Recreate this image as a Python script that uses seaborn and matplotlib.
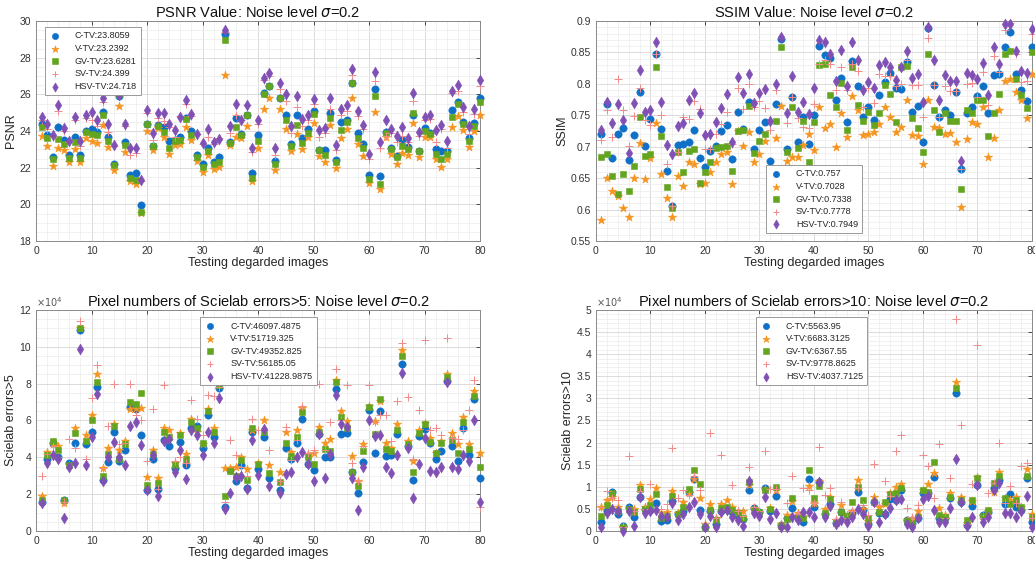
import numpy as np
import pandas as pd
import seaborn as sns
import matplotlib.pyplot as plt
from matplotlib.ticker import MultipleLocator, FuncFormatter

sns.set_style('white')
plt.rcParams['font.family'] = ['Liberation Sans', 'DejaVu Sans']

# data (bottom plots in units of 1e4)
images = list(range(1, 81))
methods = ['C-TV', 'V-TV', 'GV-TV', 'SV-TV', 'HSV-TV']

psnr_c = [24.4, 23.8, 22.6, 24.2, 23.5, 22.7, 23.7, 22.7, 24.0, 24.1, 23.95, 25.05, 23.65, 22.2, 25.9, 23.4, 21.6, 21.7, 19.95, 24.4,
          23.2, 24.35, 24.2, 23.45, 23.5, 23.7, 24.7, 24.0, 22.7, 22.2, 23.05, 22.3, 22.6, 29.3, 23.4, 24.7, 23.85, 24.9, 21.7, 23.8,
          26.1, 26.45, 22.35, 25.8, 24.85, 23.3, 24.85, 23.6, 24.1, 25.1, 22.95, 22.95, 25.0, 22.4, 24.5, 24.6, 26.6, 23.9, 23.3, 21.6,
          26.3, 21.55, 23.95, 23.05, 22.65, 23.5, 23.15, 24.9, 22.9, 24.15, 23.9, 23.0, 22.9, 22.9, 25.15, 25.6, 24.5, 23.6, 24.45, 25.8]
psnr_v = [23.75, 23.2, 22.1, 23.1, 22.95, 22.3, 23.0, 22.3, 23.6, 23.45, 23.35, 24.35, 23.15, 21.85, 25.35, 22.85, 21.25, 21.1, 19.55, 24.0,
          22.95, 24.15, 23.7, 22.75, 23.25, 23.3, 24.2, 23.5, 22.35, 21.75, 22.7, 21.95, 22.05, 27.05, 23.25, 23.7, 23.6, 24.3, 21.25, 23.1,
          25.2, 25.8, 21.9, 25.2, 24.1, 22.9, 23.85, 23.0, 23.65, 24.45, 22.65, 22.3, 24.35, 22.0, 23.6, 24.1, 25.8, 23.3, 22.65, 21.15,
          25.05, 20.85, 23.7, 22.75, 22.2, 22.8, 22.7, 24.45, 22.6, 23.7, 23.7, 22.45, 22.05, 22.45, 24.2, 24.8, 24.05, 23.15, 24.0, 24.9]
psnr_gv = [24.2, 23.6, 22.45, 23.55, 23.3, 22.55, 23.4, 22.55, 23.95, 23.85, 23.8, 24.9, 23.45, 22.15, 26.0, 23.25, 21.45, 21.35, 19.6, 24.4,
           23.2, 24.3, 23.95, 23.1, 23.45, 23.5, 24.65, 23.8, 22.6, 22.05, 22.9, 22.2, 22.3, 28.95, 23.35, 24.2, 23.8, 24.85, 21.45, 23.45,
           26.0, 26.45, 22.2, 25.8, 24.6, 23.2, 24.35, 23.35, 23.9, 24.95, 22.95, 22.7, 24.7, 22.3, 24.05, 24.5, 26.6, 23.6, 23.05, 21.4,
           25.9, 21.1, 23.9, 23.0, 22.6, 23.2, 23.0, 25.0, 22.9, 24.0, 23.85, 22.75, 22.45, 22.75, 24.75, 25.45, 24.4, 23.45, 24.3, 25.6]
psnr_sv = [24.6, 24.1, 23.7, 25.1, 24.0, 23.4, 24.6, 23.2, 24.7, 24.6, 24.3, 25.6, 23.95, 23.2, 26.0, 24.3, 22.7, 22.8, 21.3, 25.0,
           23.5, 24.7, 24.55, 24.2, 23.7, 24.8, 25.5, 24.8, 23.85, 23.3, 23.65, 23.3, 23.6, 29.4, 23.9, 24.9, 24.6, 25.4, 22.85, 24.4,
           26.8, 27.0, 22.7, 26.3, 25.65, 23.9, 25.3, 24.3, 24.6, 25.5, 23.7, 23.9, 25.2, 22.95, 24.85, 25.1, 27.05, 24.8, 24.1, 22.5,
           26.75, 23.05, 23.75, 23.9, 23.4, 23.75, 23.4, 25.65, 23.75, 24.6, 24.65, 23.4, 24.1, 23.1, 26.05, 26.2, 25.05, 23.85, 24.95, 26.45]
psnr_hsv = [24.75, 24.4, 23.8, 25.4, 24.15, 23.45, 24.75, 23.45, 24.85, 25.05, 24.6, 25.8, 24.4, 23.25, 25.95, 24.4, 23.05, 23.1, 21.35, 25.15,
            23.9, 25.0, 25.0, 24.4, 24.05, 24.75, 25.7, 24.95, 23.85, 23.35, 24.1, 23.4, 23.55, 29.5, 24.3, 25.45, 24.6, 25.4, 23.1, 24.6,
            26.9, 27.15, 23.05, 26.6, 26.0, 24.3, 25.9, 24.65, 24.9, 25.75, 24.05, 24.15, 25.8, 23.25, 25.2, 25.4, 27.4, 25.1, 24.35, 22.75,
            27.2, 23.4, 24.6, 24.1, 23.75, 24.2, 23.6, 26.1, 23.95, 24.75, 24.85, 24.05, 24.35, 23.45, 26.2, 26.5, 25.3, 24.25, 25.2, 26.8]
psnr_means = ['23.8059', '23.2392', '23.6281', '24.399', '24.718']

ssim_c = [0.721, 0.768, 0.682, 0.721, 0.73, 0.679, 0.718, 0.787, 0.701, 0.744, 0.847, 0.728, 0.661, 0.606, 0.702, 0.705, 0.707, 0.727, 0.682, 0.668,
          0.693, 0.701, 0.725, 0.735, 0.68, 0.755, 0.729, 0.771, 0.697, 0.726, 0.74, 0.678, 0.768, 0.871, 0.697, 0.779, 0.707, 0.747, 0.705, 0.75,
          0.861, 0.846, 0.841, 0.775, 0.81, 0.739, 0.836, 0.796, 0.747, 0.764, 0.743, 0.783, 0.803, 0.817, 0.794, 0.792, 0.835, 0.756, 0.765, 0.708,
          0.889, 0.798, 0.747, 0.758, 0.75, 0.787, 0.664, 0.753, 0.763, 0.78, 0.796, 0.753, 0.814, 0.815, 0.858, 0.882, 0.815, 0.791, 0.772, 0.859]
ssim_v = [0.583, 0.65, 0.629, 0.621, 0.602, 0.588, 0.65, 0.706, 0.649, 0.682, 0.738, 0.656, 0.618, 0.588, 0.654, 0.637, 0.676, 0.673, 0.641, 0.642,
          0.659, 0.675, 0.689, 0.691, 0.641, 0.725, 0.701, 0.724, 0.675, 0.688, 0.709, 0.662, 0.714, 0.765, 0.677, 0.684, 0.684, 0.702, 0.72, 0.694,
          0.764, 0.73, 0.736, 0.7, 0.754, 0.716, 0.78, 0.759, 0.718, 0.72, 0.723, 0.736, 0.764, 0.747, 0.723, 0.731, 0.775, 0.719, 0.717, 0.673,
          0.775, 0.731, 0.73, 0.721, 0.722, 0.708, 0.604, 0.713, 0.739, 0.736, 0.764, 0.684, 0.714, 0.758, 0.804, 0.808, 0.787, 0.774, 0.745, 0.816]
ssim_gv = [0.683, 0.689, 0.654, 0.624, 0.656, 0.63, 0.669, 0.748, 0.686, 0.689, 0.827, 0.717, 0.636, 0.603, 0.692, 0.659, 0.693, 0.697, 0.642, 0.66,
           0.676, 0.698, 0.699, 0.701, 0.661, 0.725, 0.727, 0.765, 0.69, 0.709, 0.721, 0.664, 0.741, 0.859, 0.692, 0.764, 0.698, 0.741, 0.676, 0.739,
           0.83, 0.832, 0.783, 0.764, 0.801, 0.727, 0.827, 0.767, 0.741, 0.756, 0.735, 0.754, 0.798, 0.784, 0.739, 0.827, 0.828, 0.745, 0.73, 0.692,
           0.847, 0.759, 0.723, 0.754, 0.741, 0.741, 0.632, 0.758, 0.754, 0.775, 0.774, 0.717, 0.753, 0.784, 0.848, 0.852, 0.808, 0.783, 0.762, 0.851]
ssim_sv = [0.711, 0.759, 0.716, 0.808, 0.759, 0.701, 0.749, 0.793, 0.742, 0.734, 0.847, 0.75, 0.672, 0.606, 0.692, 0.748, 0.744, 0.772, 0.76, 0.697,
           0.697, 0.72, 0.736, 0.756, 0.704, 0.793, 0.76, 0.8, 0.763, 0.773, 0.761, 0.727, 0.79, 0.873, 0.738, 0.779, 0.745, 0.731, 0.73, 0.768,
           0.832, 0.838, 0.832, 0.791, 0.827, 0.791, 0.832, 0.82, 0.764, 0.794, 0.77, 0.815, 0.812, 0.812, 0.796, 0.8, 0.838, 0.799, 0.798, 0.747,
           0.873, 0.798, 0.747, 0.796, 0.789, 0.789, 0.664, 0.8, 0.801, 0.779, 0.819, 0.766, 0.845, 0.819, 0.886, 0.897, 0.847, 0.803, 0.805, 0.88]
ssim_hsv = [0.727, 0.771, 0.738, 0.768, 0.743, 0.69, 0.77, 0.822, 0.756, 0.759, 0.866, 0.771, 0.702, 0.689, 0.733, 0.738, 0.774, 0.785, 0.754, 0.718,
            0.72, 0.739, 0.761, 0.784, 0.708, 0.811, 0.786, 0.816, 0.77, 0.786, 0.792, 0.741, 0.8, 0.875, 0.754, 0.812, 0.755, 0.771, 0.752, 0.794,
            0.87, 0.867, 0.848, 0.805, 0.854, 0.796, 0.867, 0.838, 0.79, 0.803, 0.793, 0.83, 0.835, 0.827, 0.806, 0.827, 0.853, 0.809, 0.815, 0.771,
            0.89, 0.838, 0.775, 0.814, 0.804, 0.804, 0.678, 0.817, 0.814, 0.808, 0.833, 0.782, 0.859, 0.831, 0.895, 0.896, 0.852, 0.821, 0.817, 0.888]
ssim_means = ['0.757', '0.7028', '0.7338', '0.7778', '0.7949']

e5_c = [1.6, 3.9, 4.8, 4.0, 1.7, 3.7, 4.75, 10.9, 4.7, 5.4, 7.8, 2.75, 3.75, 5.4, 3.8, 4.4, 6.75, 6.6, 5.2, 2.2,
        3.9, 2.3, 4.95, 4.6, 3.4, 4.85, 3.6, 5.6, 5.7, 4.5, 6.3, 5.1, 7.75, 1.3, 3.3, 2.7, 3.6, 2.35, 5.35, 3.35,
        5.1, 2.9, np.nan, 2.2, 4.5, 3.9, 4.75, 6.1, 3.65, 3.3, 5.25, 4.0, 4.0, 7.7, 5.25, 5.3, 3.2, 2.05, 3.75, 6.55,
        4.25, 6.5, 4.05, 4.1, 5.25, 9.05, 4.6, 2.75, 5.15, 5.55, 4.8, 3.9, 4.35, 8.15, 4.6, 3.8, 5.6, 4.15, 7.15, 2.9]
e5_v = [1.9, 4.3, 4.7, 4.6, 1.5, 3.6, 5.6, 11.0, 5.2, 6.3, 8.5, 3.4, 4.5, 5.8, 4.4, 4.9, 6.6, 6.7, 6.7, 2.95,
        4.4, 2.9, 5.6, 5.5, 3.7, 5.3, 4.2, 6.1, 5.4, 4.7, 6.6, 5.6, 7.9, 3.4, 3.4, 3.5, 4.0, 3.35, 5.5, 3.7,
        6.0, 3.6, np.nan, 3.2, 5.35, 4.3, 5.5, 6.7, 4.2, 4.25, 5.65, 4.75, 5.0, 8.2, 6.5, 5.95, 4.05, 2.7, 4.7, 6.8,
        5.95, 7.05, 4.75, 4.5, 5.8, 9.8, 4.9, 3.8, 5.5, 5.85, 5.05, 4.25, 4.9, 8.5, 5.3, 4.7, 6.2, 4.7, 7.6, 4.25]
e5_gv = [1.7, 4.1, 4.9, 4.4, 1.7, 3.6, 5.3, 11.0, 4.9, 6.0, 8.1, 3.0, 4.2, 5.7, 3.9, 4.7, 7.0, 6.9, 7.5, 2.5,
         4.2, 2.6, 5.4, 5.1, 3.6, 5.2, 3.9, 5.9, 5.6, 4.8, 6.5, 5.4, 7.9, 1.9, 3.25, 3.0, 3.85, 2.75, 5.6, 3.65,
         5.4, 3.15, np.nan, 2.65, 4.75, 4.05, 5.1, 6.45, 4.0, 3.65, 5.4, 4.45, 4.35, 8.1, 6.2, 5.6, 3.2, 2.45, 4.35, 6.75,
         5.25, 7.15, 4.45, 4.35, 5.5, 9.5, 4.7, 3.2, 5.3, 5.8, 4.85, 4.25, 4.8, 8.35, 4.95, 4.25, 5.9, 4.45, 7.35, 3.5]
e5_sv = [3.0, 4.2, 4.6, 4.0, 1.6, 5.0, 4.5, 11.4, 3.9, 7.2, 9.0, 3.4, 5.7, 8.0, 4.7, 4.8, 8.0, 6.3, 6.05, 3.8,
         6.6, 2.3, 7.95, 5.0, 3.8, 4.0, 3.7, 7.1, 6.1, 5.2, 7.4, 7.35, 7.8, 1.6, 4.95, 4.15, 3.5, 3.0, 6.1, 5.5,
         5.5, 4.4, np.nan, 2.7, 5.65, 3.85, 4.95, 6.8, 4.25, 4.4, 8.0, 4.4, 5.9, 8.8, 6.0, 7.9, 3.7, 2.7, 4.6, 7.9,
         5.9, 6.3, 6.3, 4.9, 7.05, 10.2, 7.3, 3.9, 6.55, 10.35, 5.5, 5.6, 5.2, 10.45, 5.05, 5.0, 5.5, 6.55, 8.2, 1.3]
e5_hsv = [1.5, 3.7, 4.1, 3.9, 0.7, 3.5, 3.7, 9.9, 3.6, 5.1, 7.45, 2.7, 4.0, 4.85, 4.0, 3.6, 5.7, 5.9, 4.65, 2.25,
          4.1, 1.9, 4.9, 5.0, 3.2, 4.4, 2.8, 5.5, 5.2, 4.1, 5.4, 4.8, 7.2, 1.2, 2.05, 2.95, 3.0, 2.3, 4.95, 3.05,
          5.55, 2.45, np.nan, 2.05, 3.1, 3.2, 4.0, 4.3, 3.65, 2.7, 5.25, 2.9, 4.2, 7.4, 5.8, 5.65, 2.85, 1.15, 3.5, 6.0,
          5.15, 5.2, 3.45, 3.15, 4.15, 8.55, 4.5, 1.8, 3.65, 5.05, 3.25, 3.2, 3.45, 8.1, 3.5, 3.35, 4.15, 3.8, 6.0, 1.6]
e5_means = ['46097.4875', '51719.325', '49352.825', '56185.05', '41228.9875']

e10_c = [0.2, 0.45, 0.88, 0.38, 0.12, 0.55, 0.32, 0.78, 0.5, 0.48, 0.64, 0.23, 0.26, 0.68, 0.38, 0.45, 0.88, 1.17, 0.47, 0.1,
         0.45, 0.16, 0.45, 0.5, 0.42, 0.35, 0.28, 0.92, 0.52, 0.42, 0.98, 0.46, 0.8, 0.13, 0.3, 0.51, 0.35, 0.2, 1.18, 0.54,
         1.1, 0.38, 0.61, 0.17, 0.44, 0.32, 0.41, 0.89, 0.48, 0.16, 0.65, 0.4, 0.38, 0.72, 0.7, 0.93, 0.25, 0.17, 0.29, 0.85,
         0.87, 1.23, 0.29, 0.29, 0.74, 3.13, 0.65, 0.14, 0.57, 1.04, 0.36, 0.42, 0.98, 1.15, 0.61, 0.83, 0.55, 0.48, 1.19, 0.2]
e10_v = [0.55, 0.7, 0.78, 0.55, 0.08, 0.5, 0.5, 1.03, 0.55, 0.72, 0.98, 0.4, 0.43, 0.9, 0.4, 0.65, 0.85, 1.17, 0.75, 0.15,
         0.6, 0.3, 0.62, 0.7, 0.55, 0.45, 0.45, 1.05, 0.5, 0.42, 0.95, 0.52, 0.93, 0.15, 0.36, 0.68, 0.4, 0.32, 1.02, 0.63,
         1.14, 0.49, 0.78, 0.26, 0.59, 0.36, 0.45, 1.15, 0.5, 0.23, 0.78, 0.54, 0.6, 0.85, 1.0, 1.06, 0.26, 0.29, 0.46, 0.93,
         1.06, 1.32, 0.51, 0.36, 0.85, 3.36, 0.78, 0.19, 0.68, 1.23, 0.33, 0.45, 0.89, 1.34, 0.75, 0.7, 0.78, 0.55, 1.4, 0.38]
e10_gv = [0.35, 0.58, 0.85, 0.45, 0.08, 0.5, 0.42, 0.95, 0.5, 0.58, 0.83, 0.3, 0.35, 0.8, 0.38, 0.55, 0.96, 1.38, 1.06, 0.1,
          0.48, 0.25, 0.52, 0.55, 0.48, 0.4, 0.3, 1.1, 0.5, 0.42, 0.92, 0.5, 1.0, 0.12, 0.28, 0.74, 0.29, 0.29, 1.38, 0.74,
          1.02, 0.4, 0.72, 0.17, 0.44, 0.34, 0.66, 1.0, 0.7, 0.29, 0.66, 0.42, 0.65, 0.84, 0.85, 0.97, 0.23, 0.19, 0.31, 0.93,
          0.89, 1.55, 0.36, 0.31, 0.78, 3.23, 0.7, 0.25, 0.7, 1.19, 0.35, 0.48, 1.09, 1.24, 0.74, 0.61, 0.69, 0.55, 1.24, 0.32]
e10_sv = [0.55, 0.9, 0.75, 0.7, 0.1, 1.7, 0.45, 0.9, 0.5, 1.07, 0.5, 0.5, 0.62, 1.88, 0.75, 0.92, 0.82, 1.25, 0.93, 0.18,
          2.22, 0.3, 1.73, 0.5, 1.05, 0.45, 0.35, 1.44, 0.55, 0.45, 1.8, 0.95, 0.95, 0.1, 0.64, 1.25, 0.38, 0.97, 0.93, 0.63,
          1.89, 0.81, 0.97, 0.28, 0.65, 0.3, 0.45, 0.97, 0.59, 0.36, 1.51, 0.59, 1.14, 0.8, 1.8, 2.17, 0.51, 0.32, 0.59, 1.73,
          1.46, 0.74, 1.97, 0.3, 1.19, 4.79, 2.4, 0.16, 1.06, 4.21, 0.3, 0.85, 1.08, 2.0, 0.63, 1.02, 0.63, 1.47, 1.53, 0.3]
e10_hsv = [0.1, 0.4, 0.5, 0.45, 0.0, 0.45, 0.12, 0.78, 0.4, 0.45, 0.47, 0.35, 0.32, 0.63, 0.26, 0.38, 0.55, 0.65, 0.38, 0.1,
           0.35, 0.1, 0.42, 0.48, 0.32, 0.26, 0.12, 1.12, 0.4, 0.33, 0.76, 0.28, 0.4, 0.08, 0.08, 0.32, 0.26, 0.42, 0.42, 0.31,
           1.1, 0.31, 0.57, 0.16, 0.26, 0.21, 0.32, 0.49, 0.38, 0.11, 0.65, 0.21, 0.38, 0.51, 0.7, 0.72, 0.16, 0.08, 0.29, 0.72,
           0.79, 0.48, 0.21, 0.21, 0.53, 1.62, 0.65, 0.11, 0.32, 1.04, 0.21, 0.32, 0.93, 1.08, 0.41, 0.4, 0.32, 0.46, 0.79, 0.1]
e10_means = ['5563.95', '6683.3125', '6367.55', '9778.8625', '4037.7125']

# marker, colour, size for each method
marks = {'C-TV': ('o', '#0f70c8', 28), 'V-TV': ('*', '#f5941f', 40), 'GV-TV': ('s', '#63a51f', 20),
         'SV-TV': ('+', '#f38a8a', 34), 'HSV-TV': ('d', '#8150b4', 30)}


def draw(ax, series, means, title, ylabel, ylim, ymaj, ymin, leg_loc, leg_anchor, sci=False):
    df = pd.DataFrame(dict(zip(methods, series)))
    df['image'] = images
    long = df.melt(id_vars='image', var_name='method', value_name='value')
    for m, mean in zip(methods, means):
        mk, col, s = marks[m]
        sub = long[long['method'] == m]
        if mk == '+':
            sns.scatterplot(data=sub, x='image', y='value', marker=mk, color=col, s=s, linewidth=0.7,
                            ax=ax, label=f'{m}:{mean}', clip_on=False, zorder=3)
        else:
            sns.scatterplot(data=sub, x='image', y='value', marker=mk, color=col, s=s, edgecolor=col,
                            linewidth=0.4, ax=ax, label=f'{m}:{mean}', clip_on=False, zorder=3)
    ax.set_xlim(0, 80)
    ax.set_ylim(*ylim)
    ax.xaxis.set_major_locator(MultipleLocator(10))
    ax.xaxis.set_minor_locator(MultipleLocator(2))
    ax.yaxis.set_major_locator(MultipleLocator(ymaj))
    ax.yaxis.set_minor_locator(MultipleLocator(ymin))
    ax.yaxis.set_major_formatter(FuncFormatter(lambda v, _: f'{v:g}'))
    ax.grid(which='major', color='#d6d6d6', lw=0.6)
    ax.grid(which='minor', color='#ebebeb', lw=0.5)
    ax.set_axisbelow(True)
    ax.tick_params(which='major', direction='in', length=3, top=True, right=True,
                   labelsize=7.5, colors='#333333', width=0.6)
    ax.tick_params(which='minor', length=0)
    for sp in ax.spines.values():
        sp.set_color('#8a8a8a')
        sp.set_linewidth(0.7)
    ax.set_title(title, fontsize=10.5, pad=3, color='#111111')
    ax.set_xlabel('Testing degarded images', fontsize=9, labelpad=1, color='#262626')
    ax.set_ylabel(ylabel, fontsize=9, labelpad=2, color='#262626')
    if sci:
        ax.text(0.0, 1.004, r'$\times10^4$', transform=ax.transAxes, fontsize=7,
                ha='left', va='bottom', color='#555555')
    leg = ax.legend(loc=leg_loc, bbox_to_anchor=leg_anchor, fontsize=6.5, frameon=True, fancybox=False,
                    edgecolor='#8a8a8a', framealpha=1, borderpad=0.5, labelspacing=0.4,
                    handletextpad=1.6, handlelength=1.2, borderaxespad=0, markerscale=0.85)
    leg.get_frame().set_linewidth(0.6)
    for t in leg.get_texts():
        t.set_color('#262626')


fig = plt.figure(figsize=(10.35, 5.64), dpi=100)
ax1 = fig.add_axes([0.0348, 0.5727, 0.429, 0.390])
ax2 = fig.add_axes([0.5758, 0.5727, 0.4213, 0.390])
ax3 = fig.add_axes([0.0348, 0.0585, 0.429, 0.392])
ax4 = fig.add_axes([0.5758, 0.0585, 0.4213, 0.392])

draw(ax1, [psnr_c, psnr_v, psnr_gv, psnr_sv, psnr_hsv], psnr_means,
     r'PSNR Value: Noise level $\sigma$=0.2', 'PSNR', (18, 30), 2, 0.5, 'upper left', (0.02, 0.973))
draw(ax2, [ssim_c, ssim_v, ssim_gv, ssim_sv, ssim_hsv], ssim_means,
     r'SSIM Value: Noise level $\sigma$=0.2', 'SSIM', (0.55, 0.9), 0.05, 0.01, 'lower left', (0.39, 0.035))
draw(ax3, [e5_c, e5_v, e5_gv, e5_sv, e5_hsv], e5_means,
     r'Pixel numbers of Scielab errors>5: Noise level $\sigma$=0.2', 'Scielab errors>5', (0, 12), 2, 0.5,
     'upper left', (0.37, 0.968), sci=True)
draw(ax4, [e10_c, e10_v, e10_gv, e10_sv, e10_hsv], e10_means,
     r'Pixel numbers of Scielab errors>10: Noise level $\sigma$=0.2', 'Scielab errors>10', (0, 5), 0.5, 0.1,
     'upper left', (0.367, 0.968), sci=True)

fig.savefig('out.png', dpi=100)
